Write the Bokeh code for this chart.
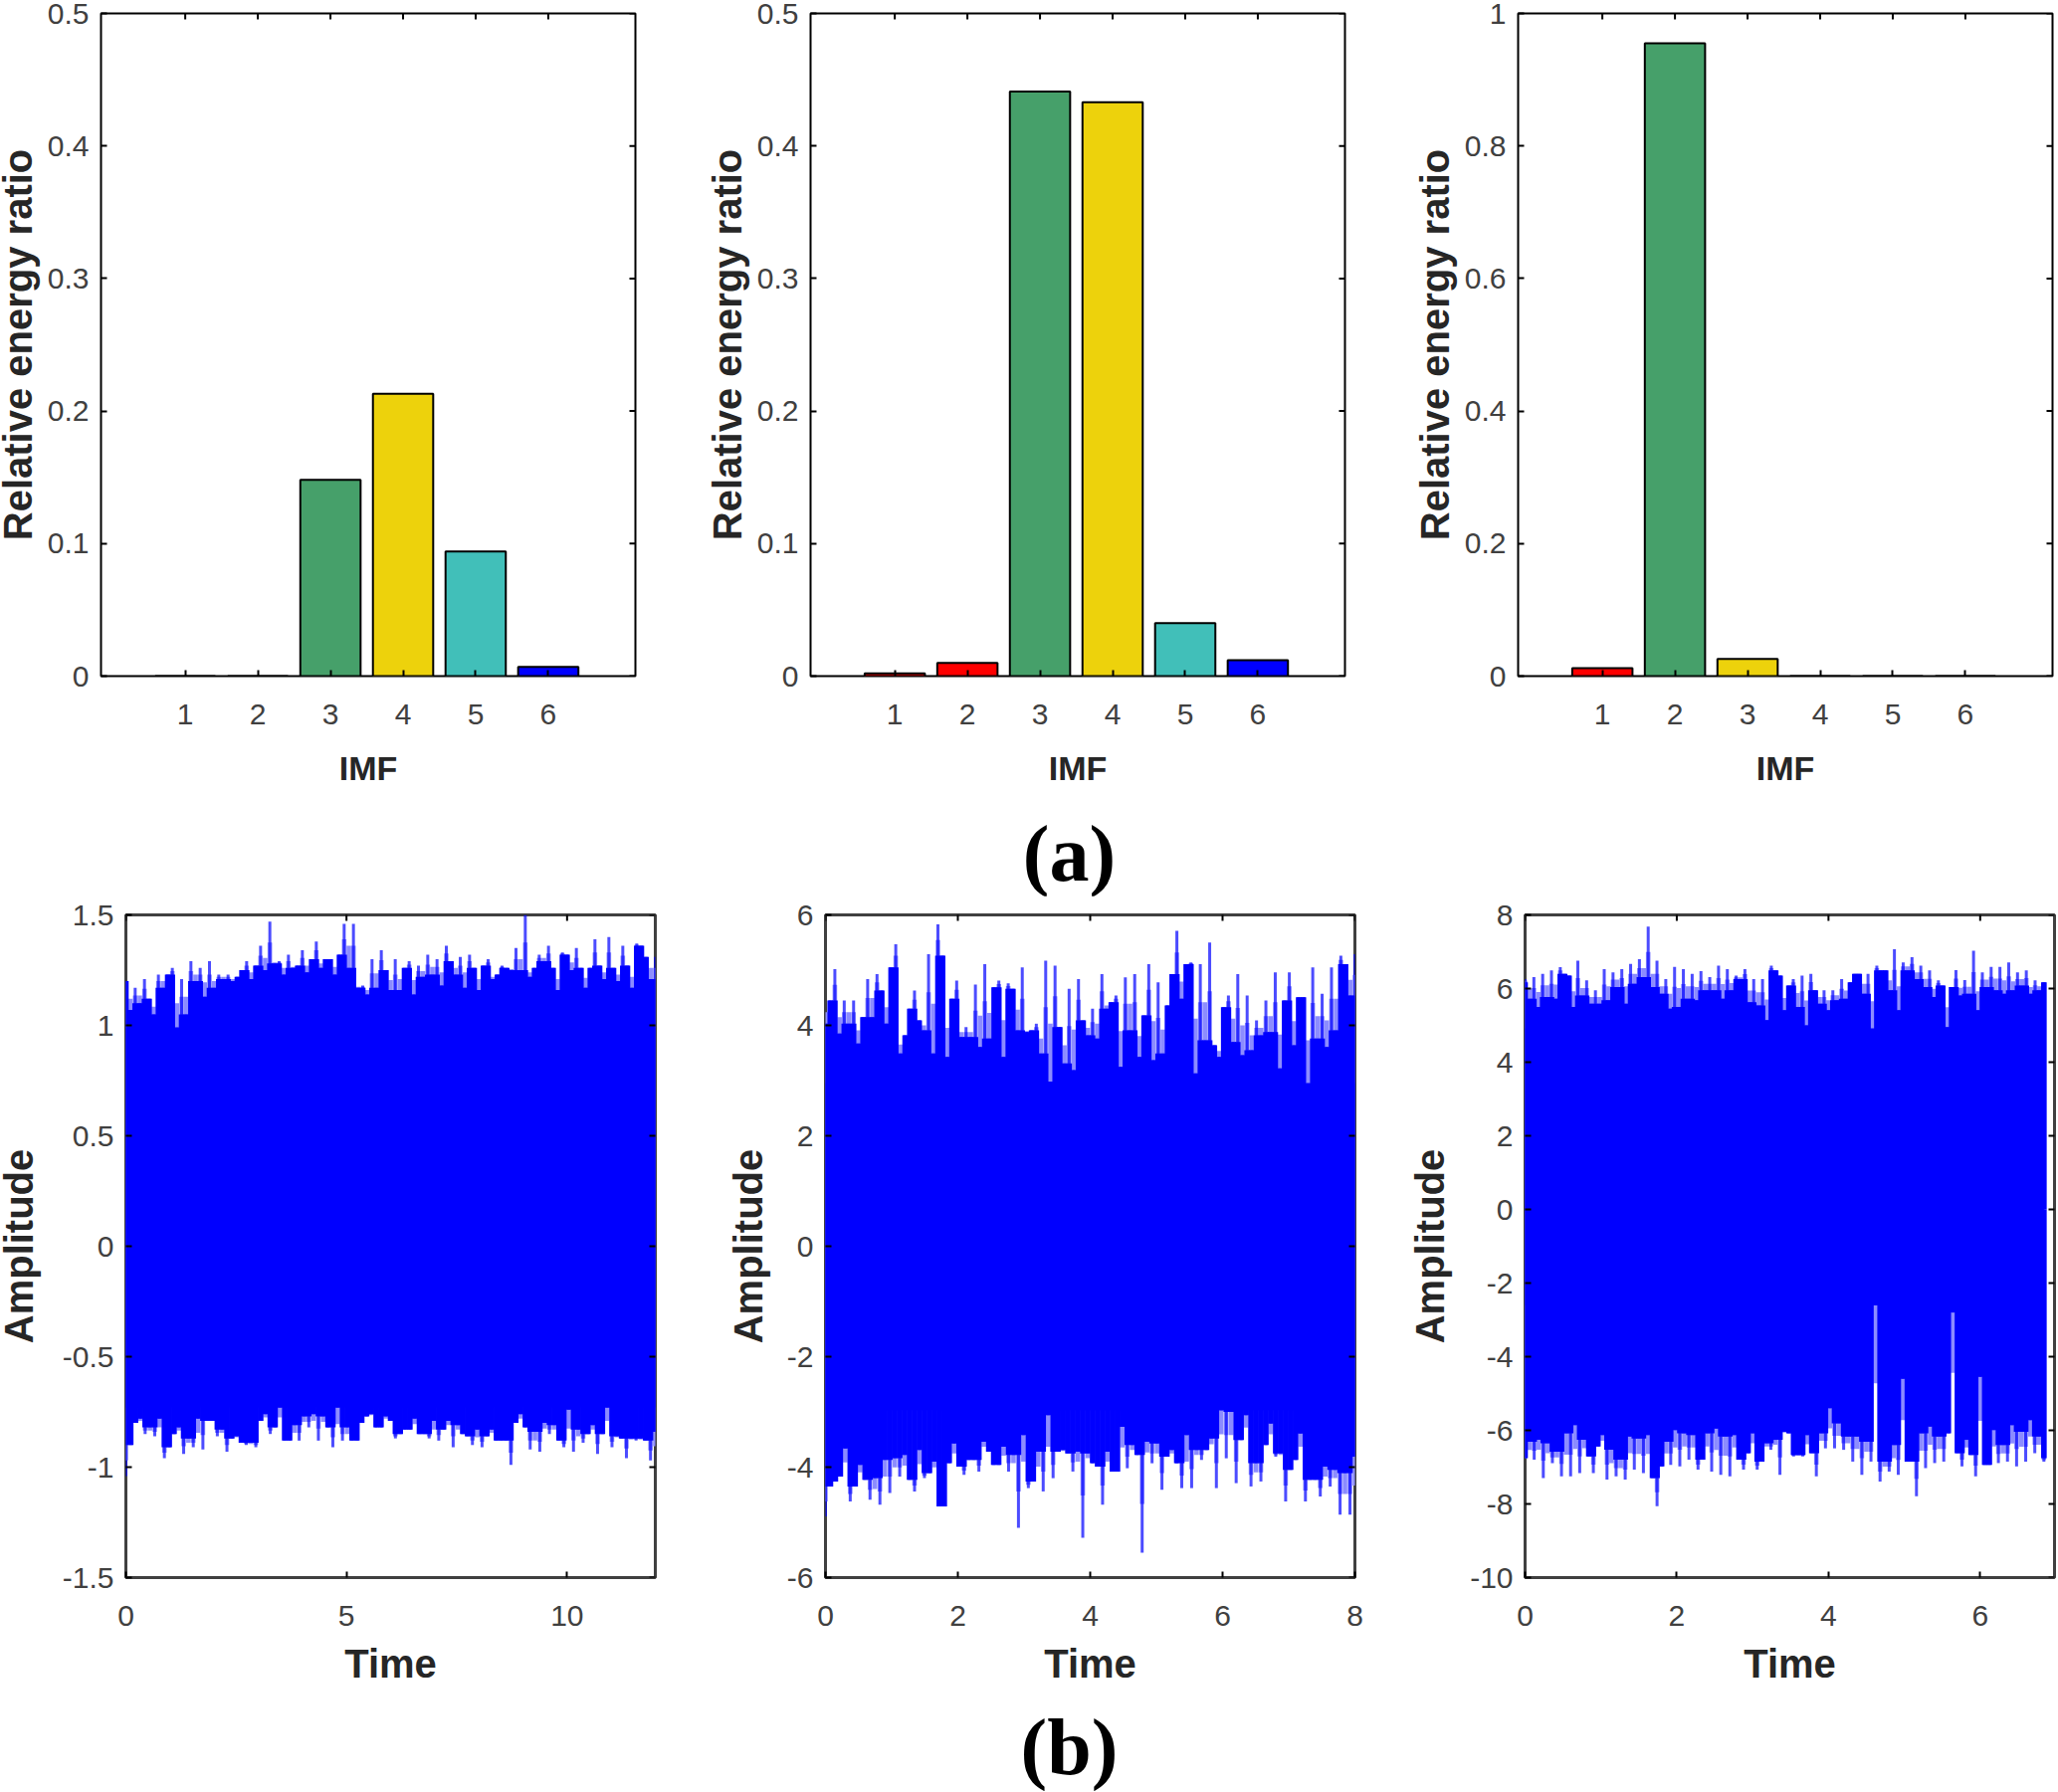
from bokeh.plotting import figure
from bokeh.embed import file_html
from bokeh.resources import INLINE
from bokeh.layouts import column, row
from bokeh.models import FixedTicker, Range1d, Label
import numpy as np

# relative energy ratio per IMF
imf = [1, 2, 3, 4, 5, 6]
ratio_a1 = [0, 0, 0.148, 0.213, 0.094, 0.007]
ratio_a2 = [0.002, 0.010, 0.441, 0.433, 0.040, 0.012]
ratio_a3 = [0.012, 0.955, 0.026, 0, 0, 0]

RED = "#ff0000"
GREEN = "#46a06a"
YELLOW = "#edd20c"
TEAL = "#41bfb9"
BLUE = "#0000ff"
colors_a1 = [RED, RED, GREEN, YELLOW, TEAL, BLUE]
colors_a2 = [RED, RED, GREEN, YELLOW, TEAL, BLUE]
colors_a3 = [RED, GREEN, YELLOW, TEAL, BLUE, BLUE]

ticks_a = [0, 0.1, 0.2, 0.3, 0.4, 0.5]
labels_a = ["0", "0.1", "0.2", "0.3", "0.4", "0.5"]
ticks_a3 = [0, 0.2, 0.4, 0.6, 0.8, 1]
labels_a3 = ["0", "0.2", "0.4", "0.6", "0.8", "1"]

ticks_b1 = [-1.5, -1, -0.5, 0, 0.5, 1, 1.5]
labels_b1 = ["-1.5", "-1", "-0.5", "0", "0.5", "1", "1.5"]
ticks_b2 = [-6, -4, -2, 0, 2, 4, 6]
ticks_b3 = [-10, -8, -6, -4, -2, 0, 2, 4, 6, 8]
time_ticks_b1 = [0, 5, 10]
time_ticks_b2 = [0, 2, 4, 6, 8]
time_ticks_b3 = [0, 2, 4, 6]

# signal envelopes, left to right
b1_upper = [1.20, 1.07, 1.17, 1.10, 1.21, 1.12, 1.05, 1.23, 1.17, 1.23, 1.26, 0.99, 1.21, 1.05, 1.29, 1.20, 1.26, 1.13, 1.29, 1.17,
            1.23, 1.21, 1.23, 1.20, 1.22, 1.25, 1.29, 1.21, 1.27, 1.36, 1.25, 1.47, 1.28, 1.29, 1.23, 1.32, 1.26, 1.27, 1.34, 1.24,
            1.30, 1.38, 1.26, 1.30, 1.30, 1.23, 1.32, 1.46, 1.26, 1.46, 1.17, 1.18, 1.14, 1.30, 1.17, 1.34, 1.25, 1.16, 1.30, 1.16,
            1.26, 1.29, 1.14, 1.27, 1.22, 1.32, 1.23, 1.30, 1.18, 1.36, 1.29, 1.23, 1.31, 1.17, 1.32, 1.26, 1.16, 1.27, 1.30, 1.21,
            1.23, 1.27, 1.26, 1.25, 1.35, 1.25, 1.50, 1.22, 1.26, 1.32, 1.29, 1.36, 1.26, 1.16, 1.33, 1.32, 1.25, 1.35, 1.26, 1.17,
            1.26, 1.39, 1.27, 1.21, 1.40, 1.26, 1.20, 1.36, 1.27, 1.17, 1.37, 1.36, 1.31, 1.21, 1.31]
b1_lower = [-1.04, -0.90, -0.80, -0.78, -0.85, -0.82, -0.86, -0.78, -0.96, -0.91, -0.85, -0.82, -0.94, -0.87, -0.91, -0.78, -0.92, -0.79, -0.79, -0.86,
            -0.83, -0.93, -0.87, -0.86, -0.89, -0.90, -0.89, -0.91, -0.79, -0.76, -0.85, -0.82, -0.73, -0.88, -0.88, -0.81, -0.88, -0.77, -0.82, -0.76,
            -0.88, -0.77, -0.82, -0.91, -0.73, -0.88, -0.82, -0.88, -0.88, -0.80, -0.77, -0.76, -0.82, -0.82, -0.77, -0.79, -0.87, -0.85, -0.83, -0.83,
            -0.78, -0.85, -0.85, -0.87, -0.79, -0.88, -0.83, -0.79, -0.91, -0.81, -0.85, -0.86, -0.90, -0.83, -0.91, -0.86, -0.83, -0.88, -0.88, -0.88,
            -0.99, -0.80, -0.76, -0.82, -0.92, -0.84, -0.93, -0.80, -0.85, -0.81, -0.88, -0.91, -0.74, -0.93, -0.83, -0.89, -0.85, -0.81, -0.94, -0.85,
            -0.73, -0.91, -0.86, -0.87, -0.96, -0.87, -0.88, -0.87, -0.88, -0.97, -0.84]
b2_upper = [4.03, 4.45, 5.02, 3.85, 4.45, 4.03, 4.45, 3.67, 4.15, 4.84, 4.15, 4.93, 4.63, 4.03, 5.05, 5.47, 3.49, 3.82, 4.30, 4.63,
            4.09, 3.91, 5.29, 3.49, 5.83, 5.26, 3.43, 4.48, 4.81, 3.79, 3.97, 3.79, 4.74, 3.61, 5.11, 3.76, 4.69, 4.81, 3.43, 4.76,
            4.66, 3.91, 5.05, 3.88, 3.91, 4.03, 3.49, 5.17, 2.98, 5.08, 3.97, 3.31, 4.66, 3.19, 4.84, 4.09, 3.82, 4.30, 3.76, 4.93,
            4.30, 4.42, 4.54, 3.25, 4.87, 3.91, 4.93, 3.43, 4.18, 5.11, 3.37, 4.78, 3.49, 4.36, 4.93, 5.71, 4.48, 5.11, 5.14, 3.13,
            5.11, 3.73, 5.50, 3.64, 3.43, 4.33, 4.54, 3.70, 4.93, 3.46, 4.54, 3.55, 4.09, 3.82, 4.45, 3.88, 4.96, 3.22, 4.45, 4.96,
            3.64, 4.51, 4.51, 2.95, 5.05, 3.76, 4.57, 3.61, 5.05, 3.91, 5.26, 5.11, 4.54, 5.29]
b2_lower = [-4.89, -4.35, -4.26, -4.17, -3.66, -4.62, -4.35, -3.96, -4.23, -4.59, -4.20, -4.68, -3.87, -4.47, -3.84, -4.17, -3.78, -4.23, -4.44, -3.69,
            -4.20, -4.11, -3.90, -4.71, -4.71, -3.93, -3.57, -3.99, -4.14, -3.87, -3.87, -4.08, -3.54, -3.72, -3.96, -3.96, -3.63, -4.08, -3.78, -5.10,
            -3.42, -4.38, -4.26, -3.72, -4.44, -3.06, -4.20, -3.72, -3.69, -3.75, -4.08, -3.72, -5.28, -3.75, -3.93, -3.99, -4.68, -3.72, -4.08, -4.08,
            -3.27, -4.02, -3.60, -3.78, -5.55, -3.54, -3.93, -3.57, -4.41, -3.81, -3.69, -3.93, -4.38, -3.42, -4.38, -3.69, -3.87, -3.69, -3.48, -4.38,
            -2.97, -3.84, -3.00, -4.29, -3.51, -3.06, -4.35, -3.93, -4.26, -3.60, -3.21, -3.81, -3.75, -4.62, -4.05, -3.87, -3.39, -4.62, -4.23, -4.23,
            -4.53, -3.99, -4.35, -4.05, -4.86, -4.11, -4.86, -3.81]
b3_upper = [6.26, 5.72, 6.31, 5.50, 6.40, 5.77, 6.49, 5.72, 6.58, 6.40, 6.35, 5.50, 6.76, 5.81, 6.22, 5.59, 5.95, 5.59, 6.53, 5.68,
            6.44, 6.04, 6.53, 5.59, 6.67, 6.13, 6.80, 6.31, 7.68, 6.04, 6.76, 5.86, 6.26, 5.45, 6.59, 5.50, 6.53, 5.72, 6.40, 5.68,
            6.47, 5.95, 6.31, 5.95, 6.62, 5.72, 6.53, 5.95, 6.35, 6.26, 6.53, 5.63, 6.26, 5.54, 6.26, 5.14, 6.62, 6.49, 6.35, 5.41,
            6.08, 6.26, 5.50, 6.35, 5.00, 6.40, 5.95, 5.59, 5.95, 5.41, 5.95, 5.68, 6.26, 5.72, 6.17, 6.40, 6.40, 5.86, 6.40, 4.91,
            6.62, 6.49, 6.49, 5.95, 7.07, 5.41, 6.71, 6.49, 6.85, 6.26, 6.62, 6.04, 6.49, 5.77, 6.22, 6.08, 4.95, 6.04, 6.50, 5.81,
            6.23, 5.86, 7.03, 5.41, 6.44, 6.04, 6.59, 5.95, 6.59, 5.86, 6.71, 5.95, 6.44, 6.08, 6.49, 5.86, 6.22, 5.95, 6.17]
b3_lower = [-6.76, -6.31, -6.80, -6.26, -7.30, -6.35, -6.89, -6.58, -7.25, -6.08, -7.25, -5.86, -7.16, -6.26, -6.71, -7.16, -6.44, -6.13, -7.34, -6.53,
            -7.25, -6.80, -7.34, -6.17, -7.07, -6.22, -7.16, -6.13, -7.30, -8.06, -6.98, -6.31, -6.94, -5.99, -6.98, -6.08, -6.80, -6.13, -7.07, -6.80,
            -6.08, -7.12, -5.95, -7.21, -6.17, -7.25, -6.13, -6.80, -7.07, -6.62, -6.08, -7.07, -6.85, -6.35, -6.53, -6.26, -7.21, -6.04, -6.08, -6.71,
            -6.67, -6.71, -6.13, -6.62, -7.25, -6.08, -6.49, -5.40, -6.49, -5.81, -6.53, -6.17, -6.85, -6.17, -7.21, -6.31, -6.85, -2.60, -7.39, -6.85,
            -7.12, -6.40, -7.21, -4.60, -6.85, -6.85, -7.79, -6.08, -7.03, -5.90, -6.89, -6.17, -6.85, -6.08, -2.80, -6.62, -6.98, -6.26, -6.67, -7.25,
            -4.55, -6.94, -6.94, -5.99, -6.89, -6.40, -6.85, -5.86, -6.98, -6.04, -6.85, -5.72, -6.62, -6.17, -6.85]

LABEL_FONT = "Liberation Sans"


def styleAxes(p, x_ticks, y_ticks, y_labels, x_label, y_label, line_color, line_width,
              x_tick_standoff, x_label_standoff, x_label_size, y_label_standoff):
    p.xaxis.ticker = FixedTicker(ticks=x_ticks)
    p.yaxis.ticker = FixedTicker(ticks=y_ticks)
    p.yaxis.major_label_overrides = dict(zip(y_ticks, y_labels))
    p.xaxis.axis_label = x_label
    p.yaxis.axis_label = y_label
    p.grid.visible = False
    p.outline_line_color = line_color
    p.outline_line_width = line_width
    for axis in p.xaxis + p.yaxis:
        axis.axis_line_color = None
        axis.major_tick_in = 6
        axis.major_tick_out = 0
        axis.major_tick_line_color = "black"
        axis.major_tick_line_width = 2
        axis.minor_tick_line_color = None
        axis.major_label_text_font = LABEL_FONT
        axis.major_label_text_font_size = "30px"
        axis.major_label_text_color = "#404040"
        axis.axis_label_text_font = LABEL_FONT
        axis.axis_label_text_font_style = "bold"
        axis.axis_label_text_font_size = "40px"
        axis.axis_label_text_color = "#262626"
    p.xaxis.axis_label_text_font_size = x_label_size
    p.xaxis.major_label_standoff = x_tick_standoff
    p.yaxis.major_label_standoff = 12
    p.xaxis.axis_label_standoff = x_label_standoff
    p.yaxis.axis_label_standoff = y_label_standoff

    # matlab box ticks on the other two sides, half of each dash is clipped by the frame
    x_end = p.x_range.end
    y_end = p.y_range.end
    p.scatter(x=[x_end] * len(y_ticks), y=y_ticks, marker="dash", size=12, line_color="black", line_width=2)
    p.scatter(x=x_ticks, y=[y_end] * len(x_ticks), marker="dash", size=12, angle=np.pi / 2,
              line_color="black", line_width=2)


def energyPlot(ratios, colors, y_top, y_ticks, y_labels, left, right, margin_left=0):
    p = figure(frame_width=537, frame_height=666, min_border_left=left, min_border_right=right,
               min_border_top=13, min_border_bottom=126, x_range=Range1d(-0.16, 7.2),
               y_range=Range1d(0, y_top), output_backend="svg", toolbar_location=None, tools=[],
               margin=(0, 0, 0, margin_left))
    p.vbar(x=imf, top=ratios, bottom=0, width=0.83, fill_color=colors, line_color="black", line_width=2)
    styleAxes(p, imf, y_ticks, y_labels, "IMF", "Relative energy ratio", "black", 2, 28, 22, "34px", 5)
    return p


def drawEnvelope(p, t_end, env):
    env = np.array(env)
    t = np.linspace(0, t_end, len(env))
    sign = np.sign(env[0])
    mag = env * sign
    left = np.roll(mag, 1)
    right = np.roll(mag, -1)
    # deep dips read as pale streaks, lone tips stay pale, the rest is solid
    mid = np.median([left, mag, right], axis=0)
    pale = (mag + mid) / 2
    core = np.minimum(mag, np.maximum(left, right))
    zeros = np.zeros(len(t))
    p.segment(t, zeros, t, pale * sign, line_color="#8c8cff", line_width=4.6)
    p.segment(t, zeros, t, env, line_color="#0000ff", line_alpha=0.7, line_width=3)
    p.segment(t, zeros, t, core * sign, line_color="#0000ff", line_width=5.6)


def signalPlot(upper, lower, t_end, x_end, x_ticks, y_range, y_ticks, y_labels, left, right, label_standoff, margin_left=0):
    p = figure(frame_width=532, frame_height=666, min_border_left=left, min_border_right=right,
               min_border_top=19, min_border_bottom=125, x_range=Range1d(0, x_end),
               y_range=Range1d(*y_range), output_backend="svg", toolbar_location=None, tools=[],
               margin=(0, 0, 0, margin_left))
    drawEnvelope(p, t_end, upper)
    drawEnvelope(p, t_end, lower)
    # solid body between the two envelopes
    p.quad(left=0, right=t_end, bottom=max(lower), top=min(upper), fill_color="#0000ff", line_color=None)
    styleAxes(p, x_ticks, y_ticks, y_labels, "Time", "Amplitude", "#404040", 3, 28, 13, "40px", label_standoff)
    return p


def captionStrip(text, x, y, height, margin_bottom=0):
    p = figure(width=2058, height=height, x_range=Range1d(0, 2058), y_range=Range1d(0, height),
               x_axis_type=None, y_axis_type=None, output_backend="svg", toolbar_location=None, tools=[],
               min_border=0, margin=(0, 0, margin_bottom, 0))
    p.outline_line_color = None
    p.grid.visible = False
    p.add_layout(Label(x=x, y=y, text=text, text_font="Liberation Serif", text_font_style="bold",
                       text_font_size="80px", text_align="center", text_baseline="middle", text_color="black"))
    return p


a1 = energyPlot(ratio_a1, colors_a1, 0.5, ticks_a, labels_a, 110, 66, margin_left=-9)
a2 = energyPlot(ratio_a2, colors_a2, 0.5, ticks_a, labels_a, 110, 64)
a3 = energyPlot(ratio_a3, colors_a3, 1, ticks_a3, labels_a3, 110, 4)

b1 = signalPlot(b1_upper, b1_lower, 12, 12, time_ticks_b1, (-1.5, 1.5), ticks_b1, labels_b1, 131, 66, 19, margin_left=-7)
b2 = signalPlot(b2_upper, b2_lower, 8, 8, time_ticks_b2, (-6, 6), ticks_b2, [str(v) for v in ticks_b2], 105, 49, 14)
b3 = signalPlot(b3_upper, b3_lower, 6.84, 6.98, time_ticks_b3, (-10, 8), ticks_b3, [str(v) for v in ticks_b3], 122, 4, 15)

page = column(row(a1, a2, a3, spacing=0), captionStrip("(a)", 1074, 47.5, 100, margin_bottom=-5),
              row(b1, b2, b3, spacing=0), captionStrip("(b)", 1074, 45, 90), spacing=0)

open("out.html", "w").write(file_html(page, INLINE))
